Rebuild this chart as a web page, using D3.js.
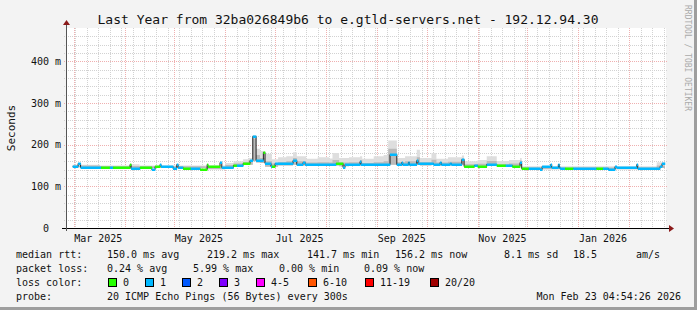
<!DOCTYPE html>
<html>
<head>
<meta charset="utf-8">
<script src="https://cdn.jsdelivr.net/npm/d3@7"></script>
<style>
  body { margin: 0; background: #f3f3f3; }
  svg { display: block; }
  text { font-family: "DejaVu Sans Mono", monospace; fill: #111; }
</style>
</head>
<body>
<div id="chart"></div>
<script>
// median rtt as steps: start of each step, median (ms), lost pings of 20
const stepDates = [
  "2025-02-28T12", "2025-03-03T18", "2025-03-05T06", "2025-03-17T16", "2025-03-23T00",
  "2025-03-24T22", "2025-04-04T06", "2025-04-04T21", "2025-04-10T07", "2025-04-17T10",
  "2025-04-19T10", "2025-04-22T10", "2025-04-23T01", "2025-04-30T07", "2025-05-02T14",
  "2025-05-03T09", "2025-05-06T09", "2025-05-11T00", "2025-05-16T17", "2025-05-21T00",
  "2025-05-21T12", "2025-05-28T19", "2025-05-29T21", "2025-06-05T22", "2025-06-08T00",
  "2025-06-11T19", "2025-06-16T00", "2025-06-17T16", "2025-06-19T16", "2025-06-24T02",
  "2025-06-25T02", "2025-06-28T17", "2025-06-29T08", "2025-07-01T05", "2025-07-12T02",
  "2025-07-14T08", "2025-07-18T03", "2025-07-19T09", "2025-08-07T04", "2025-08-11T09",
  "2025-08-12T14", "2025-08-21T17", "2025-08-22T07", "2025-09-08T21", "2025-09-13T00",
  "2025-09-16T00", "2025-09-16T14", "2025-09-20T00", "2025-09-20T14", "2025-09-25T02",
  "2025-09-25T21", "2025-10-05T05", "2025-10-09T05", "2025-10-10T00", "2025-10-15T07",
  "2025-10-16T02", "2025-10-22T10", "2025-10-23T19", "2025-10-30T00", "2025-11-01T00",
  "2025-11-06T12", "2025-11-12T14", "2025-11-18T00", "2025-11-22T00", "2025-11-26T17",
  "2025-11-27T17", "2025-12-02T00", "2025-12-08T19", "2025-12-10T02", "2025-12-15T07",
  "2025-12-15T22", "2025-12-19T22", "2025-12-20T12", "2025-12-21T00", "2025-12-24T00",
  "2025-12-29T00", "2026-01-12T00", "2026-01-16T00", "2026-01-19T05", "2026-01-23T07",
  "2026-01-24T07", "2026-02-05T12", "2026-02-06T02", "2026-02-17T14", "2026-02-19T14",
  "2026-02-20T19"
];
const medianMs = [
  149, 155, 146, 147, 147,
  147, 153, 143, 147, 141.6,
  148, 153, 148.5, 143, 153,
  145.6, 144.5, 144.5, 142.4, 153,
  149, 157.6, 145.6, 151, 151,
  155, 163, 221, 164, 181.6,
  157, 150, 149.6, 155, 163,
  154, 159, 153.6, 157, 147,
  153, 160, 153, 177, 153,
  159, 154, 159, 154, 163,
  155, 153, 157.6, 153, 157,
  153, 165, 150, 151, 150,
  153, 151, 151, 150, 159,
  143, 143, 141.6, 148, 153.6,
  145.6, 152.8, 145.6, 143.5, 143.5,
  143.5, 143.5, 143.5, 141.6, 149,
  145.6, 152.8, 143.5, 145, 150,
  157
];
const lossCount = [
  1, 1, 1, 0, 1,
  0, 0, 1, 0, 1,
  0, 1, 1, 1, 1,
  1, 0, 1, 0, 0,
  0, 1, 1, 0, 1,
  0, 1, 1, 1, 0,
  1, 1, 0, 1, 1,
  1, 1, 1, 0, 1,
  1, 1, 1, 1, 1,
  1, 1, 1, 1, 1,
  1, 1, 1, 1, 1,
  1, 1, 0, 1, 0,
  1, 0, 1, 0, 1,
  0, 1, 1, 1, 1,
  1, 1, 1, 1, 0,
  1, 0, 1, 1, 1,
  1, 1, 1, 1, 1,
  1
];
const lastDate = "2026-02-22T14";

// smoke (spread of the 20 pings), in ms
const smokeDates = [
  "2025-02-28T12", "2025-03-17T00", "2025-04-04T00", "2025-04-10T00", "2025-05-20T00",
  "2025-06-01T00", "2025-06-06T00", "2025-06-11T19", "2025-06-15T00", "2025-06-17T16",
  "2025-06-19T16", "2025-06-22T00", "2025-06-25T02", "2025-06-29T08", "2025-07-03T00",
  "2025-07-08T00", "2025-07-12T02", "2025-07-14T08", "2025-07-20T00", "2025-07-27T00",
  "2025-08-03T00", "2025-08-05T00", "2025-08-09T00", "2025-08-15T00", "2025-08-21T17",
  "2025-08-23T00", "2025-08-30T00", "2025-09-05T00", "2025-09-07T19", "2025-09-13T00",
  "2025-09-18T00", "2025-09-25T02", "2025-09-27T00", "2025-10-04T00", "2025-10-07T00",
  "2025-10-14T00", "2025-10-22T10", "2025-10-23T19", "2025-11-01T00", "2025-11-06T12",
  "2025-11-12T14", "2025-11-20T00", "2025-11-26T17", "2025-11-27T17", "2026-02-17T14"
];
const smokeLo   = [146, 145, 142, 144, 141, 146, 148, 151, 152, 160, 157, 156, 147, 147, 150,
                   150, 152, 150, 150, 150, 150, 150, 148, 150, 150, 150, 150, 151, 152, 150,
                   150, 151, 150, 151, 150, 150, 152, 148, 148, 150, 148, 148, 150, 141, 144];
const smokeCore = [150, 148, 149, 148, 147, 151, 155, 158, 162, 215, 175, 168, 160, 155, 158,
                   160, 168, 160, 157, 158, 157, 163, 157, 158, 163, 156, 158, 160, 190, 158,
                   160, 170, 158, 164, 157, 159, 166, 153, 154, 161, 153, 155, 162, 145, 150];
const smokeHi   = [152, 150, 153, 150, 150, 156, 160, 165, 168, 223, 190, 185, 178, 165, 170,
                   172, 182, 172, 166, 170, 167, 180, 168, 170, 172, 166, 172, 175, 210, 168,
                   172, 188, 168, 180, 166, 170, 174, 160, 163, 172, 161, 163, 168, 148, 158];

const lossLabels = ["0", "1", "2", "3", "4-5", "6-10", "11-19", "20/20"];
const lossColors = ["#26ff00", "#00b8ff", "#0059ff", "#7e00ff", "#ff00ff", "#ff5500", "#ff0000", "#a00000"];
const yMajor = [0, 100, 200, 300, 400];

const W = 697, H = 310;
const parse = d3.utcParse("%Y-%m-%dT%H");

const svg = d3.select("#chart").append("svg")
    .attr("width", W).attr("height", H);

// frame
svg.append("rect").attr("width", W).attr("height", H).attr("fill", "#f3f3f3");
svg.append("rect").attr("x", W - 3).attr("y", 0).attr("width", 3).attr("height", H).attr("fill", "#9e9e9e");
svg.append("rect").attr("x", 0).attr("y", H - 3).attr("width", W).attr("height", 3).attr("fill", "#9e9e9e");

const x0 = 66, x1 = 666, yTop = 28, yBot = 228;
const x = d3.scaleUtc()
    .domain([new Date(Date.UTC(2025, 1, 24, 10)), new Date(Date.UTC(2026, 1, 23, 4, 54))])
    .range([x0, x1]);
const y = d3.scaleLinear().domain([0, 480]).range([yBot, yTop]);

// canvas
svg.append("rect").attr("x", x0).attr("y", yTop).attr("width", x1 - x0).attr("height", yBot - yTop).attr("fill", "#fff");

const grid = svg.append("g");
const minorY = d3.range(20, 480, 20).filter(v => v % 100 !== 0);
const weeks = d3.utcSunday.range(x.domain()[0], x.domain()[1]);
const months = d3.utcMonth.range(x.domain()[0], x.domain()[1]);

// minor grid
grid.selectAll(".gy").data(minorY).join("line")
    .attr("x1", x0 - 2).attr("x2", x1 + 2)
    .attr("y1", d => Math.round(y(d)) + 0.5).attr("y2", d => Math.round(y(d)) + 0.5)
    .attr("stroke", "#d2d2d2").attr("stroke-dasharray", "1,1");
grid.selectAll(".gx").data(weeks).join("line")
    .attr("x1", d => Math.round(x(d)) + 0.5).attr("x2", d => Math.round(x(d)) + 0.5)
    .attr("y1", yTop).attr("y2", yBot + 2)
    .attr("stroke", "#d2d2d2").attr("stroke-dasharray", "1,1");
// major grid
grid.selectAll(".my").data(yMajor.filter(v => v > 0)).join("line")
    .attr("x1", x0 - 2).attr("x2", x1 + 2)
    .attr("y1", d => Math.round(y(d)) + 0.5).attr("y2", d => Math.round(y(d)) + 0.5)
    .attr("stroke", "#efb0b0").attr("stroke-dasharray", "1,1");
grid.selectAll(".mx").data(months).join("line")
    .attr("x1", d => Math.round(x(d)) + 0.5).attr("x2", d => Math.round(x(d)) + 0.5)
    .attr("y1", yTop).attr("y2", yBot + 2)
    .attr("stroke", "#efb0b0").attr("stroke-dasharray", "1,1");

// smoke
const smoke = smokeDates.map((d, i) => ({ t: parse(d), lo: smokeLo[i], core: smokeCore[i], hi: smokeHi[i] }));
smoke.push({ ...smoke[smoke.length - 1], t: parse(lastDate) });
const band = (lo, hi) => d3.area().curve(d3.curveStepAfter)
    .x(d => x(d.t)).y0(d => y(d[lo])).y1(d => y(d[hi]));
svg.append("path").datum(smoke).attr("d", band("lo", "hi")).attr("fill", "#dedede");
svg.append("path").datum(smoke).attr("d", band("lo", "core")).attr("fill", "#bababa");

// median: thin dark line underneath, loss-coloured band on top
const steps = stepDates.map((d, i) => ({ t: parse(d), v: medianMs[i], loss: lossCount[i] }));
const stepsEnd = steps.concat([{ ...steps[steps.length - 1], t: parse(lastDate) }]);
svg.append("path").datum(stepsEnd)
    .attr("d", d3.line().curve(d3.curveStepAfter).x(d => x(d.t)).y(d => Math.round(y(d.v)) + 0.5))
    .attr("fill", "none").attr("stroke", "#202020").attr("stroke-width", 1);
svg.append("g").selectAll("rect").data(steps).join("rect")
    .attr("x", d => x(d.t))
    .attr("width", (d, i) => x(stepsEnd[i + 1].t) - x(d.t) + 0.3)
    .attr("y", d => Math.round(y(d.v)) - 0.5)
    .attr("height", 2.5)
    .attr("fill", d => lossColors[d.loss]);

// axes
svg.append("line").attr("x1", x0 - 4).attr("x2", x1 + 4).attr("y1", yBot + 0.5).attr("y2", yBot + 0.5)
    .attr("stroke", "#000");
svg.append("line").attr("x1", x0 + 0.5).attr("x2", x0 + 0.5).attr("y1", yBot + 3).attr("y2", 24)
    .attr("stroke", "#555");
svg.append("path").attr("d", `M${x1 + 3},${yBot - 3}L${x1 + 8},${yBot + 0.5}L${x1 + 3},${yBot + 4}Z`).attr("fill", "#8b1a1a");
svg.append("path").attr("d", `M${x0 - 3},${yTop - 3}L${x0 + 0.5},${yTop - 8}L${x0 + 4},${yTop - 3}Z`).attr("fill", "#8b1a1a");

// y labels
svg.append("g").selectAll("text").data(yMajor).join("text")
    .attr("x", 61).attr("y", d => y(d) + 3.5)
    .attr("text-anchor", "end").style("white-space", "pre")
    .attr("font-size", 10).attr("fill", "#202020")
    .text(d => d === 0 ? "0  " : d + " m");

// x labels, centred half a month after the month start
const labelMonths = months.filter(m => m.getUTCMonth() % 2 === 0);
svg.append("g").selectAll("text").data(labelMonths).join("text")
    .attr("x", d => x(d3.utcDay.offset(d, 15)))
    .attr("y", 242).attr("text-anchor", "middle")
    .attr("font-size", 10).attr("fill", "#202020")
    .text(d3.utcFormat("%b %Y"));

// titles
svg.append("text").attr("x", 348).attr("y", 23.5).attr("text-anchor", "middle")
    .attr("font-size", 13).text("Last Year from 32ba026849b6 to e.gtld-servers.net - 192.12.94.30");
svg.append("text").attr("transform", "translate(14.5,128) rotate(-90)")
    .attr("text-anchor", "middle").attr("font-size", 11).text("Seconds");
svg.append("text").attr("transform", "translate(685,5) rotate(90)")
    .attr("font-size", 8).style("fill", "#aaa").text("RRDTOOL / TOBI OETIKER");

// legend
const leg = svg.append("g").attr("font-size", 10);
const rows = [
  [257.5, [[16, "median rtt:"], [107, "150.0 ms avg"], [207, "219.2 ms max"], [307, "141.7 ms min"],
           [395, "156.2 ms now"], [504, "8.1 ms sd"], [573, "18.5"], [636, "am/s"]]],
  [271.5, [[16, "packet loss:"], [107, "0.24 % avg"], [193, "5.99 % max"], [279, "0.00 % min"], [364, "0.09 % now"]]],
  [285.5, [[16, "loss color:"]]],
  [299.5, [[16, "probe:"], [107, "20 ICMP Echo Pings (56 Bytes) every 300s"]]]
];
rows.forEach(([yy, items]) => items.forEach(([xx, t]) =>
    leg.append("text").attr("x", xx).attr("y", yy).text(t)));
leg.append("text").attr("x", 681).attr("y", 299.5).attr("text-anchor", "end").text("Mon Feb 23 04:54:26 2026");

const boxX = [108, 145, 182, 219, 256, 308, 365, 430];
lossLabels.forEach((l, i) => {
  leg.append("rect").attr("x", boxX[i] + 0.5).attr("y", 278.5).attr("width", 8).attr("height", 8)
      .attr("fill", lossColors[i]).attr("stroke", "#000");
  leg.append("text").attr("x", boxX[i] + 15).attr("y", 285.5).text(l);
});
</script>
</body>
</html>
